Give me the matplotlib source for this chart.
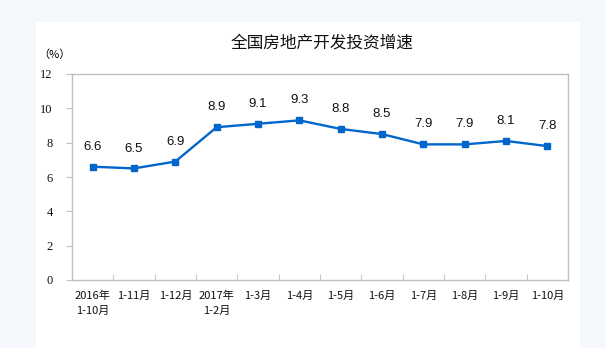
import matplotlib.pyplot as plt
from matplotlib.patches import Rectangle

plt.rcParams['font.family'] = ['Noto Sans CJK SC', 'DejaVu Sans']

# 全国房地产开发投资增速（累计同比，%）
periods = ['2016年\n1-10月', '1-11月', '1-12月', '2017年\n1-2月', '1-3月', '1-4月',
           '1-5月', '1-6月', '1-7月', '1-8月', '1-9月', '1-10月']
growth = [6.6, 6.5, 6.9, 8.9, 9.1, 9.3, 8.8, 8.5, 7.9, 7.9, 8.1, 7.8]
yticks = [0, 2, 4, 6, 8, 10, 12]

W, H = 605, 348
fig = plt.figure(figsize=(W / 100, H / 100), dpi=100)
fig.patch.set_facecolor('#f4f7fc')

# white panel behind the chart
fig.patches.append(Rectangle((36 / W, 0), (580 - 36) / W, 1 - 22 / H,
                             transform=fig.transFigure, facecolor='white',
                             edgecolor='none', zorder=-1))

left, right, top, bottom = 72, 568, 74, 280
ax = fig.add_axes([left / W, 1 - bottom / H, (right - left) / W, (bottom - top) / H])
ax.set_zorder(2)
ax.set_facecolor('white')

x = list(range(len(periods)))
ax.plot(x, growth, color='#0066cc', lw=1.7, marker='s', ms=4.6, zorder=3, clip_on=False)

for xi, v in zip(x, growth):
    ax.annotate(f'{v:.1f}', (xi, v), xytext=(0, 10), textcoords='offset points',
                ha='center', va='bottom', fontsize=9.5, family='Liberation Sans',
                color='#111111')

ax.set_xlim(-0.5, len(periods) - 0.5)
ax.set_ylim(0, 12)

for s in ax.spines.values():
    s.set_color('#bfbfbf')
    s.set_linewidth(1)

ax.set_yticks(yticks)
ax.set_yticklabels([str(t) for t in yticks], family='Liberation Serif', fontsize=9,
                   color='#111111')
ax.tick_params(axis='y', direction='out', length=4, color='#bfbfbf', pad=10)

# category boundary ticks on the x axis
ax.set_xticks([i + 0.5 for i in range(len(periods) - 1)], minor=True)
ax.set_xticks(x)
ax.set_xticklabels(periods, fontsize=8, linespacing=1.5, va='top', color='#111111')
ax.tick_params(axis='x', which='major', length=0, pad=8)
ax.tick_params(axis='x', which='minor', direction='in', length=4, color='#bfbfbf')

fig.text(322 / W, 1 - 43 / H, '全国房地产开发投资增速', ha='center', va='center',
         fontsize=12, color='#111111')
fig.text(54 / W, 1 - 55 / H, '（%）', ha='center', va='center', fontsize=8)

fig.savefig('out.png', dpi=100, facecolor=fig.get_facecolor())
